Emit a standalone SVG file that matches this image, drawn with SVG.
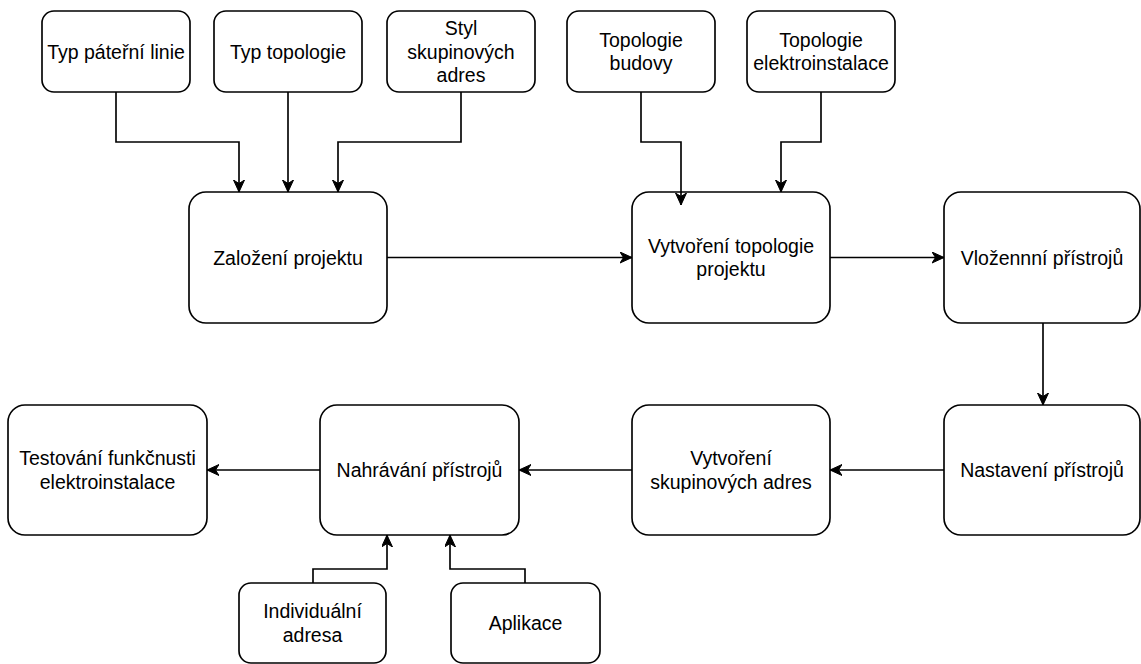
<svg xmlns="http://www.w3.org/2000/svg" width="1141" height="664" viewBox="0 0 1141 664">
<style>
.box{fill:#fff;stroke:#000;stroke-width:1.65}
.t{font-family:"Liberation Sans",Arial,Helvetica,sans-serif;font-size:19.5px;fill:#000;text-anchor:middle}
.e{fill:none;stroke:#000;stroke-width:1.65}
</style>
<defs>
<marker id="arr" markerUnits="userSpaceOnUse" markerWidth="14" markerHeight="12" refX="12" refY="5.5" orient="auto" viewBox="0 0 14 12">
<path d="M0,0 L12,5.5 L0,11 L3.5,5.5 Z" fill="#000" stroke="#000" stroke-width="1"/>
</marker>
</defs>
<rect width="1141" height="664" fill="#fff"/>
<g id="n1"><rect class="box" x="42" y="11" width="148" height="81" rx="12"/><text class="t" x="116" y="58.5">Typ páteřní linie</text></g>
<g id="n2"><rect class="box" x="214" y="11" width="148" height="81" rx="12"/><text class="t" x="288" y="58.5">Typ topologie</text></g>
<g id="n3"><rect class="box" x="387" y="11" width="148" height="81" rx="12"/><text class="t" x="461" y="34.7">Styl</text><text class="t" x="461" y="58.5">skupinových</text><text class="t" x="461" y="82.3">adres</text></g>
<g id="n4"><rect class="box" x="567" y="11" width="148" height="81" rx="12"/><text class="t" x="641" y="46.6">Topologie</text><text class="t" x="641" y="70.4">budovy</text></g>
<g id="n5"><rect class="box" x="747" y="11" width="148" height="81" rx="12"/><text class="t" x="821" y="46.6">Topologie</text><text class="t" x="821" y="70.4">elektroinstalace</text></g>
<g id="n6"><rect class="box" x="189" y="192" width="198" height="131" rx="17"/><text class="t" x="288" y="264.5">Založení projektu</text></g>
<g id="n7"><rect class="box" x="632" y="192" width="198" height="131" rx="17"/><text class="t" x="731" y="252.6">Vytvoření topologie</text><text class="t" x="731" y="276.4">projektu</text></g>
<g id="n8"><rect class="box" x="944" y="192" width="196" height="131" rx="17"/><text class="t" x="1042" y="264.5">Vložennní přístrojů</text></g>
<g id="n9"><rect class="box" x="944" y="405" width="196" height="130" rx="17"/><text class="t" x="1042" y="477">Nastavení přístrojů</text></g>
<g id="n10"><rect class="box" x="632" y="405" width="198" height="130" rx="17"/><text class="t" x="731" y="465.1">Vytvoření</text><text class="t" x="731" y="488.9">skupinových adres</text></g>
<g id="n11"><rect class="box" x="320" y="405" width="199" height="130" rx="17"/><text class="t" x="419.5" y="477">Nahrávání přístrojů</text></g>
<g id="n12"><rect class="box" x="8" y="405" width="199" height="130" rx="17"/><text class="t" x="107.5" y="465.1">Testování funkčnusti</text><text class="t" x="107.5" y="488.9">elektroinstalace</text></g>
<g id="n13"><rect class="box" x="239" y="583" width="147" height="80" rx="12"/><text class="t" x="312.5" y="618.1">Individuální</text><text class="t" x="312.5" y="641.9">adresa</text></g>
<g id="n14"><rect class="box" x="451" y="583" width="149" height="80" rx="12"/><text class="t" x="525.5" y="630">Aplikace</text></g>
<g id="connectors">
<path class="e" d="M116,92 V142 H239 V192" marker-end="url(#arr)"/>
<path class="e" d="M288,92 V192" marker-end="url(#arr)"/>
<path class="e" d="M461,92 V142 H338 V192" marker-end="url(#arr)"/>
<path class="e" d="M641,92 V142 H681 V205" marker-end="url(#arr)"/>
<path class="e" d="M821,92 V142 H781 V192" marker-end="url(#arr)"/>
<path class="e" d="M387,257.5 H632" marker-end="url(#arr)"/>
<path class="e" d="M830,257.5 H944" marker-end="url(#arr)"/>
<path class="e" d="M1043,323 V405" marker-end="url(#arr)"/>
<path class="e" d="M944,470 H830" marker-end="url(#arr)"/>
<path class="e" d="M632,470 H519" marker-end="url(#arr)"/>
<path class="e" d="M320,470 H207" marker-end="url(#arr)"/>
<path class="e" d="M313,583 V569 H387 V535" marker-end="url(#arr)"/>
<path class="e" d="M525,583 V569 H450 V535" marker-end="url(#arr)"/>
</g>
</svg>
